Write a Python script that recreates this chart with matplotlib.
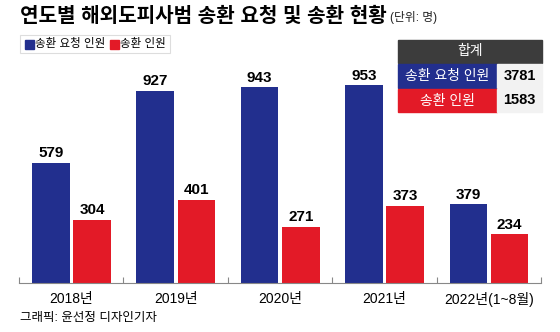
import numpy as np
import matplotlib.pyplot as plt
from matplotlib.patches import Rectangle

plt.rcParams['font.family'] = ['Liberation Sans', 'Noto Sans CJK KR', 'DejaVu Sans']

# 연도별 송환 요청 / 송환 인원
years = ['2018년', '2019년', '2020년', '2021년', '2022년(1~8월)']
request = [579, 927, 943, 953, 379]
returned = [304, 401, 271, 373, 234]
total_request = 3781
total_returned = 1583

blue = '#222f8e'
red = '#e31a27'

fig = plt.figure(figsize=(5.6, 3.32), dpi=100)
ax = fig.add_axes([19 / 560, 49 / 332, 522 / 560, 223 / 332])

x = np.arange(len(years)) + 0.5
w = 0.36
ax.bar(x - 0.195, request, w, color=blue)
ax.bar(x + 0.2, returned, w, color=red)

for xi, v in zip(x - 0.195, request):
    ax.text(xi, v + 12, str(v), ha='center', va='bottom', fontsize=11,
            fontweight='bold')
for xi, v in zip(x + 0.2, returned):
    ax.text(xi, v + 12, str(v), ha='center', va='bottom', fontsize=11,
            fontweight='bold')

ax.set_xlim(0, len(years))
ax.set_ylim(0, 1075)
for s in ['top', 'right', 'left']:
    ax.spines[s].set_visible(False)
ax.spines['bottom'].set_color('#888888')
ax.spines['bottom'].set_linewidth(0.8)
ax.set_yticks([])
ax.set_xticks(np.arange(len(years) + 1))
ax.set_xticklabels([])
ax.tick_params(axis='x', direction='in', length=4, color='#888888', width=0.8)
for xi, lab in zip(x, years):
    ax.text(xi, -0.04, lab, transform=ax.get_xaxis_transform(), ha='center',
            va='top', fontsize=10)

# 제목
fig.text(20 / 560, 1 - 16 / 332, '연도별 해외도피사범 송환 요청 및 송환 현황',
         fontsize=14.5, fontweight='bold', va='center', ha='left')
fig.text(390 / 560, 1 - 18 / 332, '(단위: 명)', fontsize=8.5, va='center',
         ha='left', color='#222222')

# 범례
fig.patches.append(Rectangle((20 / 560, 1 - 53 / 332), 150 / 560, 18 / 332,
                             transform=fig.transFigure, facecolor='white',
                             edgecolor='#dddddd', lw=0.8))
fig.patches.append(Rectangle((25 / 560, 1 - 49 / 332), 9 / 560, 9 / 332,
                             transform=fig.transFigure, color=blue))
fig.text(35 / 560, 1 - 44 / 332, '송환 요청 인원', fontsize=8.3, va='center')
fig.patches.append(Rectangle((110 / 560, 1 - 49 / 332), 9 / 560, 9 / 332,
                             transform=fig.transFigure, color=red))
fig.text(120 / 560, 1 - 44 / 332, '송환 인원', fontsize=8.3, va='center')


# 합계 표
def cell(x0, y0, x1, y1, color, text, tcolor, size, weight='normal'):
    fig.patches.append(Rectangle((x0 / 560, 1 - y1 / 332), (x1 - x0) / 560,
                                 (y1 - y0) / 332, transform=fig.transFigure,
                                 color=color))
    fig.text((x0 + x1) / 2 / 560, 1 - (y0 + y1) / 2 / 332, text, color=tcolor,
             fontsize=size, fontweight=weight, ha='center', va='center')


cell(398, 40, 542, 63, '#3c3c3c', '합계', 'white', 10)
cell(398, 64, 497, 88, blue, '송환 요청 인원', 'white', 10)
cell(497, 64, 542, 88, '#f2f2f2', str(total_request), 'black', 10.5, 'bold')
cell(398, 89, 497, 112, red, '송환 인원', 'white', 10)
cell(497, 89, 542, 112, '#f2f2f2', str(total_returned), 'black', 10.5, 'bold')

fig.text(20 / 560, 1 - 318 / 332, '그래픽: 윤선정 디자인기자', fontsize=9,
         va='center', ha='left')

fig.savefig('out.png', dpi=100)
